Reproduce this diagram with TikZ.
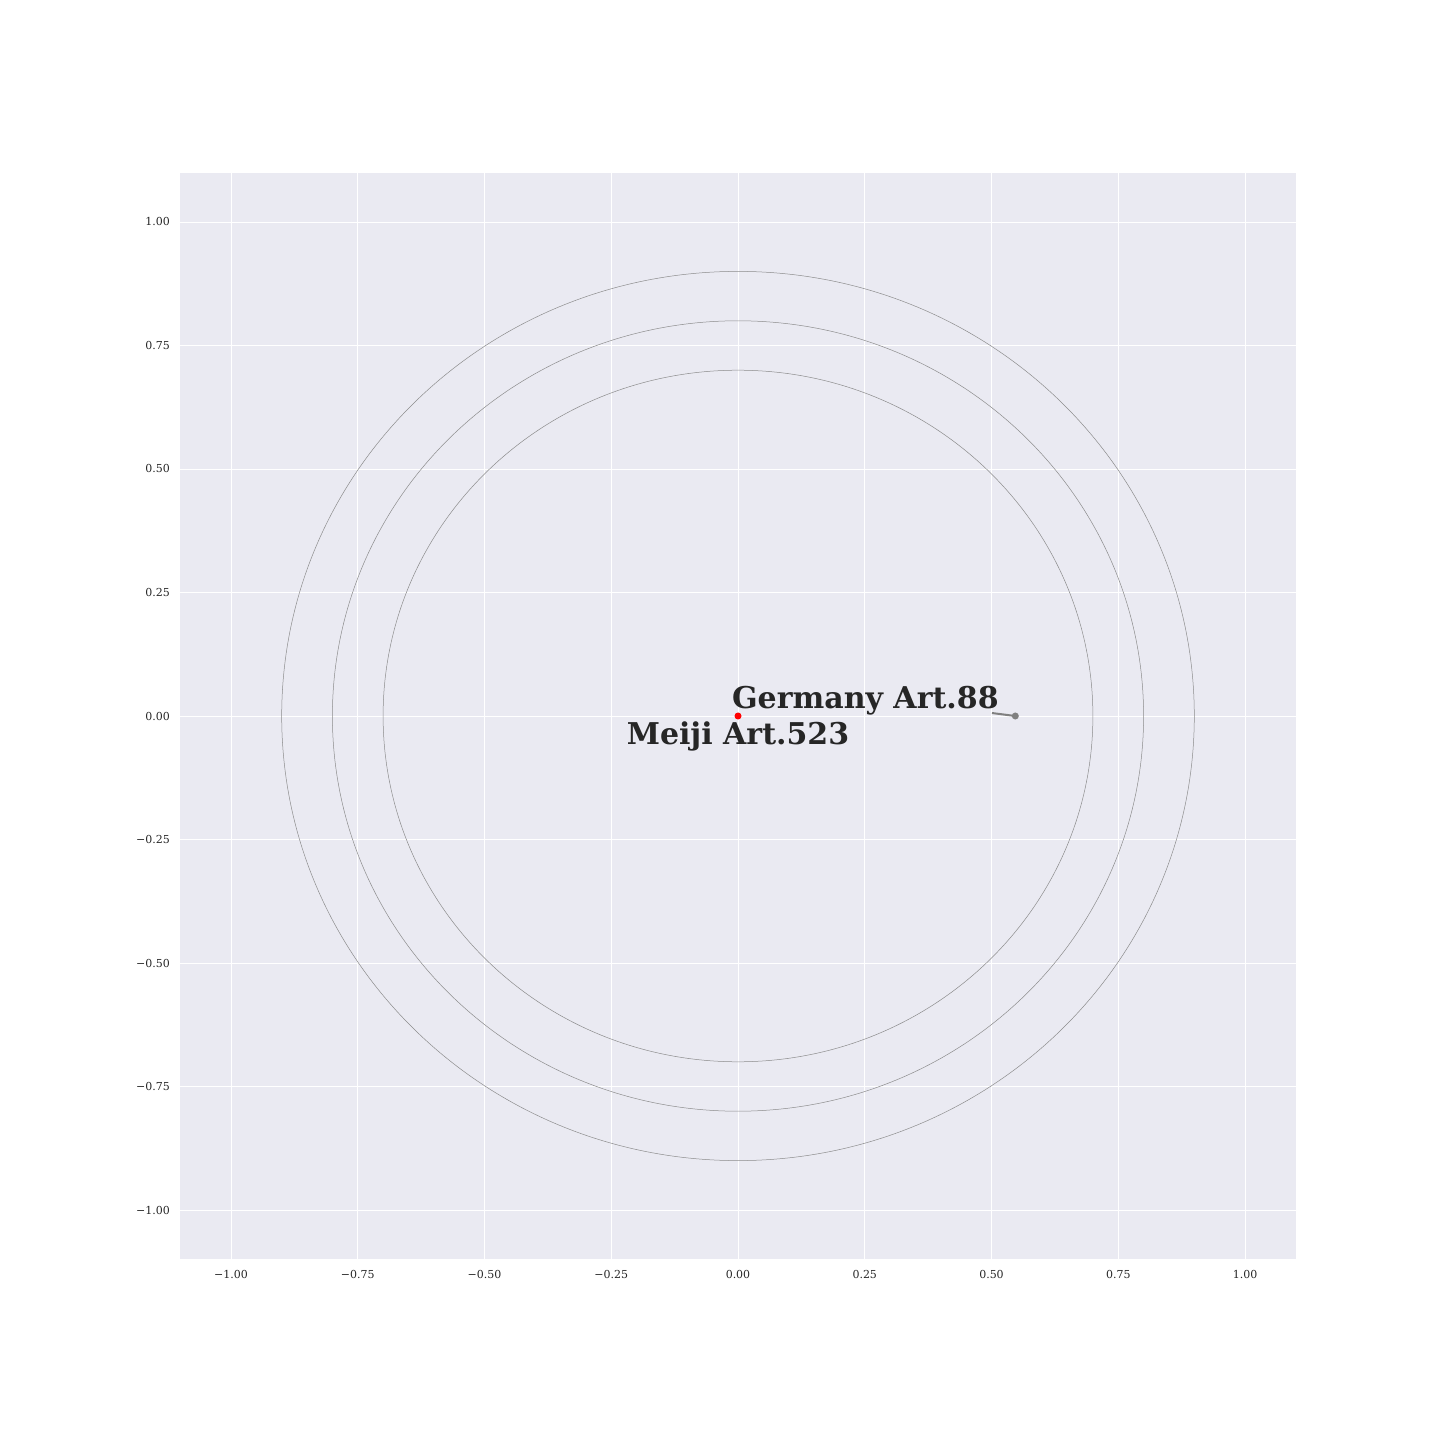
\documentclass[tikz,border=0pt]{standalone}
\usepackage{fontspec}
\setmainfont{DejaVu Serif}
\begin{document}
\begin{tikzpicture}[x=507pt,y=494pt]
    \tikzstyle{grid} = [white, line width=0.9pt]
    \tikzstyle{ring} = [black!45, line width=0.5pt]
    \tikzstyle{tick} = [font=\fontsize{11}{13}\selectfont, text=black!85,
        inner sep=0pt]
    \tikzstyle{dot} = [circle, inner sep=0pt, minimum size=7pt]
    \tikzstyle{lbl} = [font=\fontsize{30}{34}\selectfont\bfseries,
        text=black!85, inner sep=0pt]
    \definecolor{panel}{RGB}{234,234,242}

    \useasboundingbox ({-738/507},{-724/494}) rectangle ({702/507},{716/494});
    \fill[panel] (-1.1,-1.1) rectangle (1.1,1.1);

    \foreach \v/\t in {-1/−1.00, -0.75/−0.75, -0.5/−0.50, -0.25/−0.25,
        0/0.00, 0.25/0.25, 0.5/0.50, 0.75/0.75, 1/1.00} {
        \draw[grid] (\v,-1.1) -- (\v,1.1);
        \draw[grid] (-1.1,\v) -- (1.1,\v);
        \node[tick, anchor=center] at (\v,-1.1296) {\t};
        \node[tick, anchor=east] at (-1.12,\v) {\t};
    }

    \draw[ring] (0,0) circle [radius=0.7];
    \draw[ring] (0,0) circle [radius=0.8];
    \draw[ring] (0,0) circle [radius=0.9];

    \node(meiji) [dot, fill=red] at (0,0) {};
    \node(germany) [dot, fill=gray] at (0.547,0) {};
    \coordinate(tail) at (0.501,0.006);
    \draw[gray, line width=2pt] (tail) -- (germany.center);

    \node(germanylbl) [lbl, anchor=base west] at (-0.012,0.016)
        {Germany Art.88};
    \node(meijilbl) [lbl, anchor=base] at (0,-0.057)
        {Meiji Art.523};
\end{tikzpicture}
\end{document}
